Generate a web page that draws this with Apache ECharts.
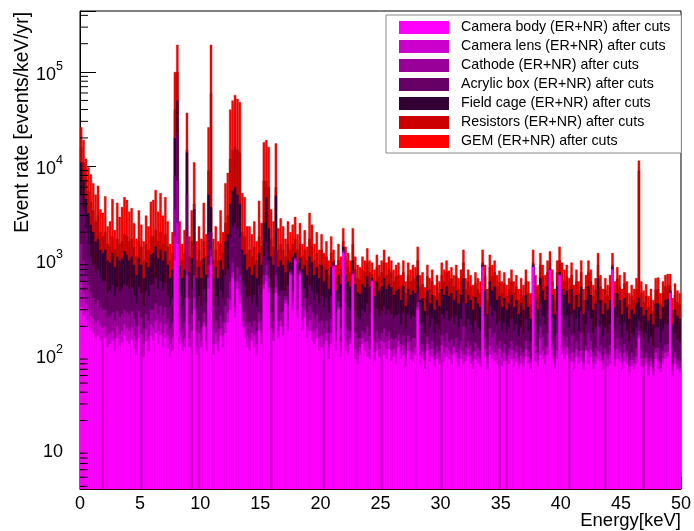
<!DOCTYPE html>
<html><head><meta charset="utf-8">
<script src="https://cdn.jsdelivr.net/npm/echarts@6/dist/echarts.min.js"></script>
<style>html,body{margin:0;padding:0;background:#fff}#c{width:694px;height:531px}</style>
</head><body><div id="c"></div>
<script>
// Energy bins: 250 bins of 0.2 keV from 0 to 50 keV
const binWidth = 0.2;
const nBins = 250;
const energyBins = Array.from({length: nBins}, (_, i) => ((i + 0.5) * binWidth).toFixed(1));

const seriesNames = [
  'Camera body (ER+NR) after cuts',
  'Camera lens (ER+NR) after cuts',
  'Cathode (ER+NR) after cuts',
  'Acrylic box (ER+NR) after cuts',
  'Field cage (ER+NR) after cuts',
  'Resistors (ER+NR) after cuts',
  'GEM (ER+NR) after cuts'
];
const seriesColors = ['#ff00ff', '#cc00cc', '#990099', '#660066', '#330033', '#cc0000', '#ff0000'];
const outlineColors = [null, null, null, null, null, '#a80000', '#c00000'];

// Cumulative stack heights (events/keV/yr), one array per stack layer
const stackCameraBody = [
320,260,230,200,180,170,150,160,140,2,
150,120,130,140,110,150,125,135,160,140,
130,145,115,100,150,2,95,140,110,160,
140,170,130,160,120,150,115,95,110,1000,
1500,130,110,120,400,120,2,300,100,2,
120,200,110,500,900,100,130,110,160,120,
170,220,300,650,250,500,350,200,150,120,
110,140,120,100,180,130,500,600,450,2,
140,450,150,200,160,350,180,700,300,1000,
250,700,180,250,150,180,140,130,150,110,
120,2,140,90,130,850,110,300,95,1200,
110,100,130,700,90,80,100,130,110,95,
90,600,85,110,95,2,100,90,115,85,
95,80,120,90,100,75,110,90,85,100,
300,80,90,70,110,85,95,75,90,80,
2,85,95,90,80,100,85,75,90,80,
85,95,80,70,90,80,75,850,95,70,
100,90,85,80,2,75,85,2,80,90,
75,85,70,80,75,95,80,70,850,85,
75,100,90,80,100,790,90,70,90,690,
100,90,100,2,85,70,95,80,85,70,
110,80,95,70,80,90,85,70,2,75,
80,800,75,90,85,70,85,80,65,75,
70,80,150,75,2,80,60,75,60,90,
70,65,80,90,95,450,60,80,70,65];
const stackCameraLens = [
600,450,350,300,260,240,220,230,200,190,
200,160,170,180,150,200,165,180,210,190,
180,195,160,140,200,165,130,185,150,210,
195,230,180,220,170,210,160,130,150,1800,
2500,170,135,150,700,150,180,400,125,170,
140,220,140,650,1100,130,170,140,190,160,
220,280,380,750,320,600,430,230,200,160,
150,170,160,130,220,170,560,700,520,190,
170,520,180,230,200,380,230,730,360,1030,
300,740,230,300,200,230,180,170,190,150,
160,130,170,120,170,870,140,320,135,1220,
140,125,150,720,115,105,120,150,135,140,
115,605,105,135,115,140,135,115,140,110,
115,105,140,110,125,92,135,110,105,120,
320,100,108,85,130,98,115,88,105,95,
125,105,120,110,100,120,105,92,110,100,
100,115,98,86,110,96,90,860,115,82,
125,110,105,100,115,92,105,85,98,112,
92,105,85,98,90,115,95,82,855,105,
88,150,110,98,120,800,112,82,110,700,
120,110,120,92,105,85,115,95,110,82,
110,105,115,85,96,110,102,82,102,90,
100,805,90,115,105,82,105,95,76,88,
82,95,160,90,75,92,70,85,68,105,
85,72,92,105,108,452,68,92,78,72];
const stackCathode = [
1500,1000,700,550,450,400,350,380,320,300,
300,250,260,280,230,290,250,270,300,280,
270,290,240,200,290,250,190,270,230,300,
300,350,270,330,260,320,240,190,220,3500,
7000,250,190,220,1800,210,270,700,180,230,
190,280,200,900,1300,190,230,190,260,220,
330,400,600,950,600,850,700,300,280,220,
220,200,230,180,280,230,700,900,650,280,
230,700,230,280,290,420,330,760,470,1060,
400,770,320,400,280,330,280,240,270,220,
230,190,230,170,240,890,180,370,190,1250,
200,180,180,740,170,150,150,180,170,200,
160,615,140,180,150,170,190,155,175,150,
145,150,165,130,160,115,160,140,150,150,
360,125,130,105,155,115,140,100,125,110,
160,140,170,135,145,125,150,115,140,200,
120,140,125,105,135,118,110,860,150,95,
190,155,170,125,140,110,130,100,118,140,
110,125,95,118,105,140,110,90,860,125,
105,200,155,125,170,800,140,95,170,710,
160,140,155,118,160,105,140,110,170,95,
125,170,140,105,118,200,125,95,118,105,
125,815,110,150,125,95,130,110,88,105,
95,118,180,110,92,105,85,95,80,118,
118,85,110,125,130,455,80,105,90,85];
const stackAcrylicBox = [
5000,3500,2200,1500,1100,900,750,800,650,600,
600,450,480,550,420,520,470,500,560,540,
500,520,430,350,520,450,330,480,420,550,
560,650,500,600,480,580,430,330,400,8000,
23000,450,330,400,5000,380,500,1500,320,420,
330,500,350,2000,2000,330,420,330,480,400,
700,800,1800,2300,2500,2200,1800,600,550,400,
420,350,430,320,550,430,1100,1600,1000,520,
430,1300,420,480,480,480,550,800,700,1100,
600,800,500,500,400,550,480,380,450,350,
420,320,400,280,420,920,280,450,320,1300,
360,320,300,780,290,250,240,300,280,350,
280,630,230,310,260,290,330,270,300,270,
240,260,270,210,280,190,270,240,260,250,
450,210,220,170,260,195,240,170,210,185,
270,240,290,230,250,210,260,195,240,350,
195,240,210,170,230,195,180,880,260,155,
330,260,290,210,230,180,220,170,195,240,
180,210,155,195,170,240,180,140,880,210,
170,350,260,210,290,810,240,155,290,720,
270,240,260,195,270,170,240,180,290,155,
210,290,240,170,195,350,210,155,195,170,
210,830,180,250,210,155,220,180,140,170,
155,195,230,180,150,170,135,155,125,195,
195,135,180,210,215,465,120,170,145,135];
const stackFieldCage = [
11000,7000,4500,3200,2400,2000,1600,1700,1300,1200,
1300,1000,950,1200,850,1100,1000,1050,1250,1150,
1000,1100,900,700,1050,900,650,950,850,1150,
1200,1400,1050,1300,1000,1250,900,650,800,20000,
50000,900,650,800,14000,750,1050,3500,650,850,
650,1050,700,5000,3700,650,850,650,1000,800,
1600,1900,4000,5500,6000,5000,4000,1300,1150,800,
850,700,900,650,1200,900,2500,4700,2200,1100,
900,4900,850,1000,900,750,1000,950,1100,1200,
950,1050,800,900,700,1100,950,700,850,650,
900,600,800,500,850,950,480,700,560,1400,
700,600,530,1000,560,460,440,560,520,680,
530,650,420,600,480,530,650,500,560,520,
430,480,500,380,530,330,500,430,480,450,
700,380,400,290,480,350,430,300,380,330,
500,430,530,420,450,380,480,350,430,650,
350,430,380,300,410,350,320,900,480,270,
600,480,530,380,420,320,400,300,350,430,
320,380,270,350,300,430,320,240,900,380,
300,650,480,380,530,820,430,270,530,750,
500,430,480,350,500,300,430,320,530,270,
380,530,430,300,350,650,380,270,350,300,
380,850,320,450,380,270,400,320,240,300,
270,350,400,320,260,300,230,270,210,350,
350,240,320,380,390,480,210,300,260,240];
const stackResistors = [
16000,11000,7500,5500,4200,3400,2600,3000,2000,1800,
2000,1500,1400,1800,1300,1700,1500,1600,1900,1800,
1600,1700,1400,1100,1600,1400,1000,1500,1300,1800,
1800,2100,1600,2000,1500,1900,1400,1000,1200,40000,
100000,1400,1000,1200,15000,1100,1600,4000,1000,1300,
1000,1600,1100,9000,60000,1000,1300,1000,1500,1200,
2500,3000,12000,15000,16000,15000,14000,2000,1800,1200,
1300,1100,1400,1000,1800,1400,7000,7000,6000,1700,
1400,6000,1300,1500,1300,1100,1500,1300,1500,1700,
1300,1500,1100,1300,1000,1700,1400,1000,1200,900,
1300,850,1100,700,1200,1000,650,1000,800,1600,
1000,850,750,1500,800,650,620,800,750,950,
750,720,600,850,680,750,950,700,800,750,
600,680,700,530,750,450,700,600,680,640,
1000,530,560,400,680,490,600,420,530,450,
700,600,750,590,640,530,680,490,600,950,
490,600,530,420,570,490,450,950,680,380,
850,680,750,530,590,450,570,420,490,600,
450,530,380,490,420,600,450,340,950,530,
420,900,680,530,750,950,600,380,750,1000,
700,600,680,490,700,420,600,450,750,380,
530,750,600,420,490,900,530,380,490,420,
530,900,450,640,530,380,570,450,340,420,
380,490,9000,450,360,420,320,380,290,490,
500,340,450,530,540,540,300,430,360,340];
const stackGEM = [
26000,19000,12000,9800,8200,6600,5000,6200,3500,3200,
4800,2300,2600,4500,2100,4100,2900,3700,4700,4400,
3300,3600,2500,1700,3400,2400,1600,3000,2300,4200,
4400,5600,3300,5200,3000,4700,2600,1500,2000,100000,
195000,2600,1500,2100,37000,1800,3400,11000,1600,2300,
1700,4100,1900,26000,195000,1700,2300,1600,3400,2000,
6600,8500,40000,50000,57000,52000,48000,5200,4700,2300,
2300,1900,2600,1600,4300,2500,18000,19000,16000,3500,
2600,17500,2200,2800,2300,1700,2600,2000,2400,2900,
1900,2500,1500,2100,1400,3200,2400,1500,2000,1300,
1900,1200,1600,1000,1800,1300,900,1500,1100,2200,
1400,1200,1000,2200,1100,900,850,1100,1000,1350,
1000,950,800,1150,900,1000,1300,950,1100,1000,
800,900,950,700,1000,600,950,800,900,850,
1400,700,750,520,900,650,800,550,700,600,
950,800,1000,780,850,700,900,650,800,1300,
650,800,700,550,750,650,600,1300,900,500,
1150,900,1000,700,780,600,750,550,650,800,
600,700,500,650,550,800,600,450,1300,700,
550,1200,900,700,1000,1250,800,500,1000,1400,
950,800,900,650,950,550,800,600,1000,500,
700,1000,800,550,650,1200,700,500,650,550,
700,1200,600,850,700,500,750,600,450,550,
500,650,11500,600,480,560,420,500,380,650,
660,450,600,700,720,720,400,570,480,450];

const stacks = [stackCameraBody, stackCameraLens, stackCathode, stackAcrylicBox, stackFieldCage, stackResistors, stackGEM];

const yMin = 3.75, yMax = 4.45e5;
const xMin = 0, xMax = 50, xStep = 5;
// log minor tick positions (2..9 x 10^n) inside the axis range
const yMinorTicks = [];
for (let e = 0; e <= 5; e++) for (let m = 2; m <= 9; m++) {
  const v = m * Math.pow(10, e);
  if (v > yMin && v < yMax) yMinorTicks.push([0, v]);
}

const FONT = 'Liberation Sans';
const chart = echarts.init(document.getElementById('c'), null, {renderer: 'canvas'});

// draw the stack as overlapping cumulative bars: top layer first, bottom layer last
const barSeries = stacks.map((d, i) => ({
  name: seriesNames[i],
  type: 'bar',
  xAxisIndex: 0,
  yAxisIndex: 0,
  data: d,
  barWidth: '100%',
  barGap: '-100%',
  clip: true,
  z: 2 + (stacks.length - i),
  itemStyle: outlineColors[i]
    ? {color: seriesColors[i], borderColor: outlineColors[i], borderWidth: 0.4}
    : {color: seriesColors[i]},
  emphasis: {disabled: true}
}));

chart.setOption({
  animation: false,
  backgroundColor: '#fff',
  grid: {left: 80, right: 13, top: 11, bottom: 42, show: true, borderColor: '#000', borderWidth: 1, backgroundColor: 'transparent'},
  legend: {
    data: seriesNames,
    orient: 'vertical',
    left: 386, top: 15,
    itemWidth: 50, itemHeight: 13, itemGap: 4,
    icon: 'rect',
    padding: [5, 11, 4, 13],
    backgroundColor: '#fff',
    borderColor: '#888', borderWidth: 1,
    selectedMode: false,
    z: 30,
    itemStyle: {borderWidth: 0},
    textStyle: {fontSize: 14.2, fontFamily: FONT, color: '#000', lineHeight: 15, padding: [0, 0, 0, 7]}
  },
  xAxis: [
    {type: 'category', data: energyBins, show: false, boundaryGap: true, gridIndex: 0},
    {type: 'value', min: xMin, max: xMax, interval: xStep, position: 'bottom', gridIndex: 0,
     axisLine: {show: true, onZero: false, lineStyle: {color: '#000', width: 1}},
     axisTick: {show: true, inside: true, length: 12, lineStyle: {color: '#000'}},
     minorTick: {show: true, splitNumber: 5, length: 6, lineStyle: {color: '#000'}},
     splitLine: {show: false},
     axisLabel: {fontSize: 18, fontFamily: FONT, color: '#000', margin: 6}}
  ],
  yAxis: [{
    type: 'log', logBase: 10, min: yMin, max: yMax,
    axisLine: {show: true, lineStyle: {color: '#000', width: 1}},
    axisTick: {show: true, inside: true, length: 16, lineStyle: {color: '#000'}},
    splitLine: {show: false},
    axisLabel: {
      margin: 17, color: '#000',
      formatter: (v) => {
        const lg = Math.log10(v);
        const e = Math.round(lg);
        if (Math.abs(lg - e) > 1e-6) return '';
        if (e === 1) return '{b|10}';
        return '{b|10}{s|' + e + '}';
      },
      rich: {
        b: {fontSize: 18, fontFamily: FONT, color: '#000', lineHeight: 24, verticalAlign: 'bottom'},
        s: {fontSize: 12.5, fontFamily: FONT, color: '#000', lineHeight: 13, verticalAlign: 'top'}
      }
    }
  }],
  series: barSeries.concat([{
    type: 'custom',
    name: 'yMinorTicks',
    xAxisIndex: 1, yAxisIndex: 0,
    data: yMinorTicks,
    silent: true, clip: false, z: 20,
    renderItem: (params, api) => {
      const p = api.coord([0, api.value(1)]);
      return {type: 'line', shape: {x1: p[0], y1: p[1], x2: p[0] + 8, y2: p[1]}, style: {stroke: '#000', lineWidth: 1}};
    }
  }]),
  graphic: [
    {type: 'text', x: 23, y: 12, rotation: Math.PI / 2, z: 50,
     style: {text: 'Event rate [events/keV/yr]', font: '19.3px "Liberation Sans"', fill: '#000', align: 'right', verticalAlign: 'middle'}},
    {type: 'text', x: 681, y: 521, z: 50,
     style: {text: 'Energy[keV]', font: '18.5px "Liberation Sans"', fill: '#000', align: 'right', verticalAlign: 'middle'}}
  ]
});
</script>
</body></html>
